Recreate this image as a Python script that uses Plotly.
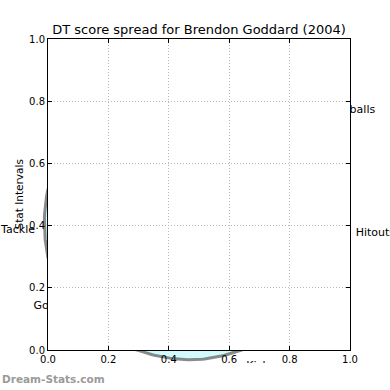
import numpy as np
import plotly.graph_objects as go

# ---------------- data ----------------
categories = ["Hitouts", "Handballs", "Tackle", "Goals", "Kicks"]
stat_values = [0.845, 0.456, 0.916, 0.994, 0.96]
axis_ticks = [0.0, 0.2, 0.4, 0.6, 0.8, 1.0]
tick_labels = ["0.0", "0.2", "0.4", "0.6", "0.8", "1.0"]
title_text = "DT score spread for Brendon Goddard (2004)"
y_title = "Stat Intervals"
watermark = "Dream-Stats.com"

# ---------------- layout constants (pixels) ----------------
W = H = 390
CX, CY = 199.0, 194.5          # radar centre
R_UNIT = 172.0                 # pixels per 1.0 stat interval
spoke_angles = [-12.3, 29.6, 191.1, 216.6, 270.0]   # degrees, radar spokes
label_angles = [-12.3, 29.6, 191.1, 216.6, 289.7]   # degrees, label placement
label_dist = [180.5, 171.3, 184.4, 187.1, 182.2]
PLOT_L, PLOT_R, PLOT_T, PLOT_B = 48, 350, 39, 350
FONT = "DejaVu Sans"

# radar outline (polar interpolation between spokes, like a polar axes draws it)
order = np.argsort(spoke_angles)
ang = [spoke_angles[i] for i in order]
rad = [stat_values[i] * R_UNIT for i in order]
xs, ys = [], []
n = len(ang)
for i in range(n):
    a0, a1 = ang[i], ang[(i + 1) % n]
    if a1 <= a0:
        a1 += 360
    r0, r1 = rad[i], rad[(i + 1) % n]
    t = np.linspace(0, 1, 80)
    th = np.radians(a0 + t * (a1 - a0))
    rr = r0 + t * (r1 - r0)
    xs.extend(CX + rr * np.cos(th))
    ys.extend(CY - rr * np.sin(th))
xs.append(xs[0])
ys.append(ys[0])

lab_x = [CX + d * np.cos(np.radians(a)) for a, d in zip(label_angles, label_dist)]
lab_y = [CY - d * np.sin(np.radians(a)) for a, d in zip(label_angles, label_dist)]

fig = go.Figure()

# underlying radar layer (xy, full page)
fig.add_trace(go.Scatter(
    x=xs, y=ys, mode="lines", fill="toself",
    fillcolor="#d2fafc",
    line=dict(color="rgba(90,90,90,0.7)", width=3),
    hoverinfo="skip", xaxis="x", yaxis="y"))
fig.add_trace(go.Scatter(
    x=lab_x, y=lab_y, mode="text", text=categories,
    textposition="middle center",
    textfont=dict(family=FONT, size=11, color="black"),
    hoverinfo="skip", xaxis="x", yaxis="y"))

# main cartesian axes (x2y2) drawn on top with white background
fig.add_trace(go.Scatter(x=[None], y=[None], mode="markers",
                         xaxis="x2", yaxis="y2", hoverinfo="skip"))

axis_common = dict(
    range=[0, 1], tickvals=axis_ticks, ticktext=tick_labels,
    showgrid=True, gridcolor="#b8b8b8", griddash="1px,2px", gridwidth=1,
    zeroline=False, showline=True, linecolor="black", linewidth=1,
    mirror="ticks", ticks="inside", ticklen=4, tickcolor="black",
    tickfont=dict(family=FONT, size=10, color="black"),
)

fig.update_layout(
    width=W, height=H,
    margin=dict(l=0, r=0, t=0, b=0),
    paper_bgcolor="white", plot_bgcolor="white",
    template="none",
    showlegend=False,
    hovermode=False,
    font=dict(family=FONT, color="black"),
    xaxis=dict(domain=[0, 1], range=[0, W], visible=False, fixedrange=True),
    yaxis=dict(domain=[0, 1], range=[H, 0], visible=False, fixedrange=True),
    xaxis2=dict(domain=[PLOT_L / W, PLOT_R / W], anchor="y2", **axis_common),
    yaxis2=dict(domain=[1 - PLOT_B / H, 1 - PLOT_T / H], anchor="x2", **axis_common),
    title=dict(text=title_text, x=(PLOT_L + PLOT_R) / 2 / W, xanchor="center",
               y=1 - 29 / H, yanchor="middle",
               font=dict(family=FONT, size=13, color="black")),
    shapes=[dict(type="rect", xref="paper", yref="paper",
                 x0=0, x1=1, y0=0, y1=(H - 363) / H,
                 fillcolor="white", line=dict(width=0), layer="above")],
    annotations=[
        dict(text=y_title, textangle=-90, xref="paper", yref="paper",
             x=18 / W, y=1 - ((PLOT_T + PLOT_B) / 2) / H,
             xanchor="center", yanchor="middle", showarrow=False,
             font=dict(family=FONT, size=10.5, color="black")),
        dict(text=watermark, xref="paper", yref="paper",
             x=0, y=1 - 379 / H, xanchor="left", yanchor="middle",
             showarrow=False,
             font=dict(family=FONT, size=10.5, color="#9a9a9a", weight="bold")),
    ],
)

fig.write_html("out.html", config={"displayModeBar": False},
               post_script="document.body.style.margin='0px';")
